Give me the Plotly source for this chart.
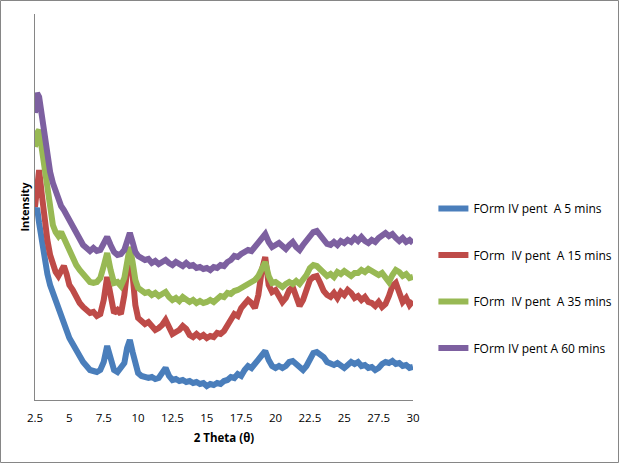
import plotly.graph_objects as go

# 2-theta sampling positions
theta = [2.5, 2.65, 2.8, 3.0, 3.2, 3.4, 3.6, 3.8, 4.0, 4.2, 4.4, 4.6, 4.8,
         5.0, 5.25, 5.5, 5.75, 6.0, 6.25, 6.5, 6.75, 7.0, 7.25, 7.5, 7.75,
         8.0, 8.25, 8.5, 8.75, 9.0, 9.2, 9.4, 9.6, 9.8, 10.0, 10.25, 10.5,
         10.75, 11.0, 11.25, 11.5, 11.75, 12.0, 12.25, 12.5, 12.75, 13.0,
         13.25, 13.5, 13.75, 14.0, 14.25, 14.5, 14.75, 15.0, 15.25, 15.5,
         15.75, 16.0, 16.25, 16.5, 16.75, 17.0, 17.25, 17.5, 17.75, 18.0,
         18.25, 18.5, 18.75, 19.0, 19.25, 19.5, 19.75, 20.0, 20.25, 20.5,
         20.75, 21.0, 21.25, 21.5, 21.75, 22.0, 22.25, 22.5, 22.75, 23.0,
         23.25, 23.5, 23.75, 24.0, 24.25, 24.5, 24.75, 25.0, 25.25, 25.5,
         25.75, 26.0, 26.25, 26.5, 26.75, 27.0, 27.25, 27.5, 27.75, 28.0,
         28.25, 28.5, 28.75, 29.0, 29.25, 29.5, 29.75, 30.0]

# intensities (arbitrary units)
min5 = [187, 192, 177, 158, 140, 126, 115, 107, 99, 92, 87, 79, 71,
        62, 56, 50, 42, 38, 34, 30, 29, 28, 30, 38, 54,
        40, 30, 28, 32, 37, 52, 60, 48, 34, 27, 24, 23,
        22, 23, 21, 22, 26, 32, 24, 20, 21, 19,
        20, 18, 19, 17, 18, 16, 17, 14, 16, 15,
        17, 16, 19, 20, 23, 22, 26, 24, 30, 34,
        32, 36, 40, 46, 49, 40, 34, 32, 34, 32,
        34, 38, 39, 36, 32, 30, 34, 42, 47, 48,
        45, 43, 38, 37, 35, 37, 34, 32, 35, 38,
        36, 38, 34, 35, 32, 33, 30, 32, 36, 38,
        37, 39, 36, 37, 34, 35, 32, 33]

min15 = [193, 215, 230, 205, 178, 160, 145, 135, 128, 124, 128, 134, 126,
         115, 110, 103, 97, 93, 90, 87, 88, 84, 86, 100, 123,
         100, 87, 90, 86, 105, 138, 153, 125, 95, 82, 78, 76,
         78, 74, 70, 72, 75, 80, 72, 66, 68, 70,
         74, 71, 65, 63, 66, 63, 65, 62, 64, 63,
         67, 66, 69, 74, 80, 86, 84, 92, 96, 100,
         97, 92, 105, 130, 143, 115, 108, 110, 104, 98,
         102, 110, 113, 104, 94, 100, 110, 120, 123, 124,
         117, 109, 105, 103, 107, 102, 108, 105, 110, 107,
         102, 104, 100, 103, 98, 97, 94, 98, 93, 96,
         104, 114, 117, 108, 98, 102, 95, 99]

min35 = [253, 267, 270, 250, 225, 205, 188, 175, 168, 164, 168, 162, 155,
         148, 142, 135, 130, 125, 122, 118, 117, 118, 122, 134, 147,
         130, 117, 118, 114, 122, 142, 153, 138, 120, 112, 109, 107,
         108, 105, 107, 104, 106, 108, 103, 100, 102, 99,
         103, 101, 98, 100, 97, 99, 97, 98, 100, 98,
         102, 104, 103, 107, 106, 109, 110, 112, 114, 116,
         117, 120, 124, 132, 138, 124, 117, 118, 115, 113,
         116, 118, 116, 119, 116, 120, 125, 132, 135, 134,
         130, 126, 124, 126, 123, 128, 126, 129, 126, 124,
         127, 127, 130, 128, 131, 129, 126, 125, 127, 122,
         118, 125, 130, 128, 124, 126, 122, 123]

min60 = [287, 307, 303, 282, 260, 243, 228, 217, 208, 200, 194, 190, 185,
         178, 172, 165, 160, 155, 152, 149, 152, 149, 150, 157, 163,
         155, 148, 145, 146, 150, 160, 167, 158, 148, 144, 142, 140,
         141, 137, 139, 136, 138, 140, 137, 135, 138, 136,
         134, 137, 134, 135, 132, 133, 131, 132, 130, 133,
         132, 135, 134, 138, 140, 144, 143, 146, 148, 150,
         149, 153, 156, 162, 166, 158, 153, 155, 157, 154,
         151, 155, 158, 153, 150, 155, 160, 164, 168, 169,
         164, 160, 156, 155, 158, 155, 159, 157, 160, 158,
         162, 159, 163, 159, 157, 160, 158, 162, 165, 167,
         164, 166, 162, 159, 162, 158, 160, 157]

names = ["FOrm IV pent\u00a0 A 5 mins", "FOrm\u00a0 IV pent\u00a0 A 15 mins",
         "FOrm\u00a0 IV pent\u00a0 A 35 mins", "FOrm IV pent A 60 mins"]
colors = ["#4A7EBB", "#BE4B48", "#98B954", "#7D60A0"]

fig = go.Figure()
for i, (ys, nm, c) in enumerate(zip([min5, min15, min35, min60], names, colors)):
    fig.add_trace(go.Scatter(x=theta, y=ys, mode="lines", name=nm,
                             legendgroup=str(i),
                             line=dict(color=c, width=6)))

fig.update_layout(
    width=619, height=463,
    paper_bgcolor="white", plot_bgcolor="white",
    margin=dict(l=35, r=206, t=14, b=63, autoexpand=False),
    font=dict(family="Open Sans", size=11, color="#000000"),
    legend=dict(x=1.054, y=0.534, xanchor="left", yanchor="top",
                tracegroupgap=27.5, font=dict(size=12),
                bgcolor="rgba(0,0,0,0)"),
    xaxis=dict(range=[2.5, 30], tick0=2.5, dtick=2.5, showgrid=False,
               zeroline=False, showline=True, linecolor="#868686",
               linewidth=1, ticks="", tickfont=dict(size=11.5),
               ticklabelstandoff=7,
               title=dict(text="<b>2 Theta (θ)</b>", font=dict(size=11.5),
                          standoff=10)),
    yaxis=dict(range=[0, 386], showgrid=False, zeroline=False,
               showline=True, linecolor="#868686", linewidth=1,
               showticklabels=False, ticks="", automargin=False,
               title=dict(text="<b>Intensity</b>", font=dict(size=11),
                          standoff=2)),
    shapes=[dict(type="rect", xref="paper", yref="paper",
                 x0=-34.5 / 378, x1=205.5 / 378 + 1, y0=-62.5 / 386,
                 y1=1 + 13.5 / 386, line=dict(color="#868686", width=1))],
)

fig.write_html("out.html", config={"displayModeBar": False},
               post_script="document.body.style.margin='0';")
